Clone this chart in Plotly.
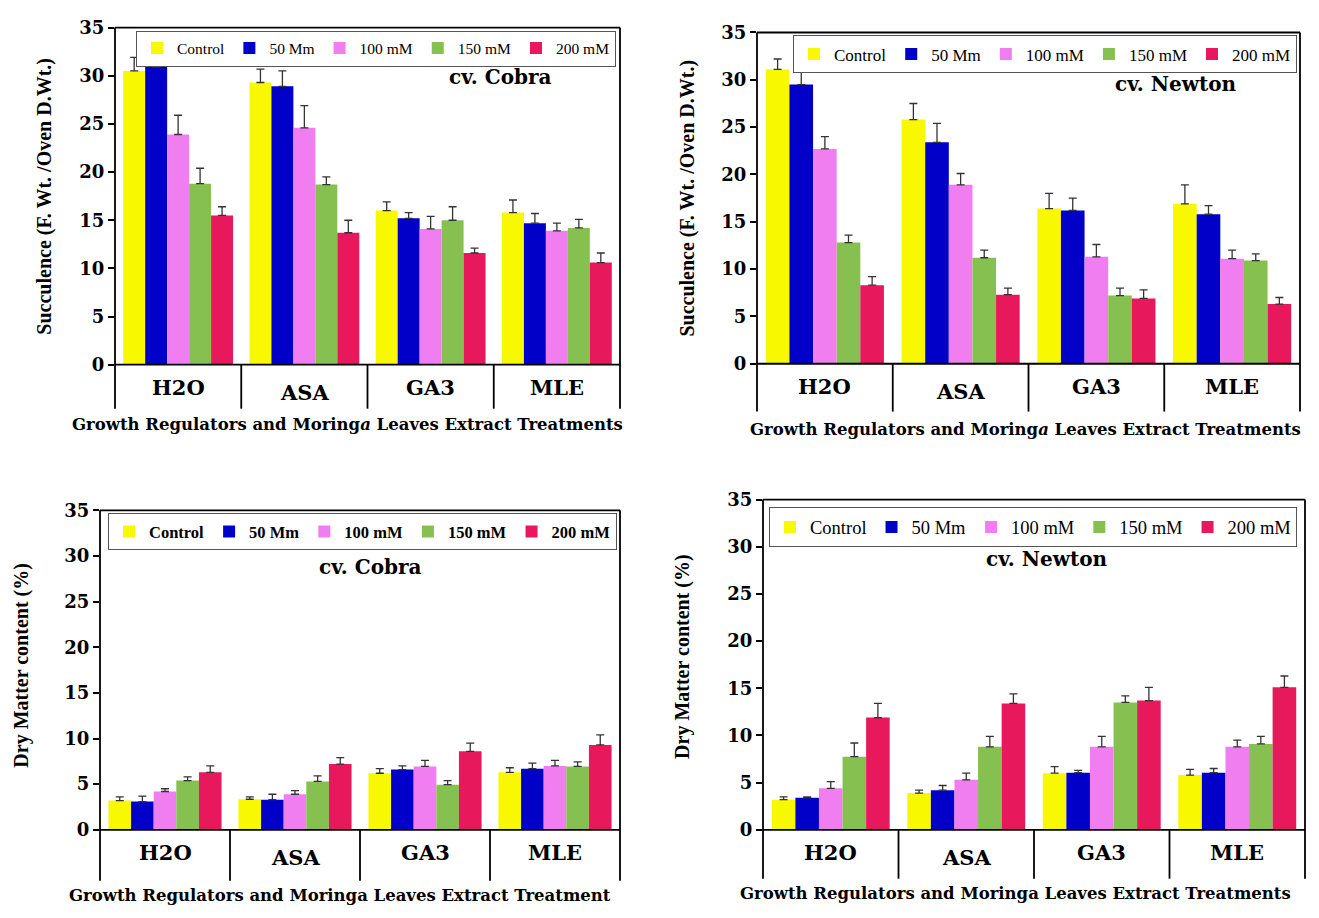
import plotly.graph_objects as go

# Treatments on the category axis and the salinity levels drawn as bars
categories = ["H2O", "ASA", "GA3", "MLE"]
series_names = ["Control", "50 Mm", "100 mM", "150 mM", "200 mM"]
series_colors = ["#F8F800", "#0000C8", "#F07EF0", "#86C050", "#E8185C"]

# Succulence, cv. Cobra (means and upper error-bar ends)
cobra_succ = [
    [30.5, 29.3, 16.0, 15.8],
    [30.9, 28.9, 15.2, 14.7],
    [23.9, 24.6, 14.1, 13.9],
    [18.8, 18.7, 15.0, 14.2],
    [15.5, 13.7, 11.6, 10.6],
]
cobra_succ_top = [
    [31.9, 30.7, 16.9, 17.1],
    [32.3, 30.5, 15.8, 15.7],
    [25.9, 26.9, 15.4, 14.7],
    [20.4, 19.5, 16.4, 15.1],
    [16.4, 15.0, 12.1, 11.6],
]

# Succulence, cv. Newton
newton_succ = [
    [31.1, 25.8, 16.4, 16.9],
    [29.5, 23.4, 16.2, 15.8],
    [22.7, 18.9, 11.3, 11.1],
    [12.8, 11.2, 7.2, 10.9],
    [8.3, 7.3, 6.9, 6.3],
]
newton_succ_top = [
    [32.2, 27.5, 18.0, 18.9],
    [31.1, 25.4, 17.5, 16.7],
    [24.0, 20.1, 12.6, 12.0],
    [13.6, 12.0, 8.0, 11.6],
    [9.2, 8.0, 7.8, 7.0],
]

# Dry matter content (%), cv. Cobra
cobra_dm = [
    [3.2, 3.35, 6.2, 6.3],
    [3.1, 3.3, 6.6, 6.7],
    [4.2, 3.9, 6.95, 7.0],
    [5.4, 5.3, 4.95, 6.95],
    [6.3, 7.2, 8.6, 9.3],
]
cobra_dm_top = [
    [3.6, 3.6, 6.7, 6.8],
    [3.7, 3.9, 7.0, 7.3],
    [4.5, 4.3, 7.6, 7.6],
    [5.8, 5.9, 5.4, 7.45],
    [7.0, 7.9, 9.5, 10.4],
]

# Dry matter content (%), cv. Newton
newton_dm = [
    [3.2, 3.9, 6.0, 5.8],
    [3.4, 4.2, 6.05, 6.05],
    [4.4, 5.3, 8.8, 8.8],
    [7.75, 8.8, 13.5, 9.1],
    [11.9, 13.4, 13.7, 15.1],
]
newton_dm_top = [
    [3.5, 4.2, 6.7, 6.4],
    [3.5, 4.7, 6.3, 6.5],
    [5.1, 6.0, 9.9, 9.5],
    [9.2, 9.9, 14.2, 9.9],
    [13.4, 14.4, 15.1, 16.3],
]

SERIF = "DejaVu Serif"
TIMES = "Liberation Serif"
X_TITLE_A = "Growth Regulators and Moring<i>a</i> Leaves Extract Treatments"

panels = [
    dict(sfx="", vals=cobra_succ, tops=cobra_succ_top,
         xdom=[115, 620], y0=362, y35=17, ybot=407,
         ytitle="Succulence (F. Wt. /Oven D.Wt.)", ytitle_xy=(45, 190),
         xtitle=X_TITLE_A, xtitle_xy=(347, 423),
         cv="cv. Cobra", cv_xy=(500, 68),
         legend_xy=(136, 20), legend_size=15.5, legend_bold=False),
    dict(sfx="2", vals=newton_succ, tops=newton_succ_top,
         xdom=[757, 1300], y0=361, y35=22, ybot=410,
         ytitle="Succulence (F. Wt. /Oven D.Wt.)", ytitle_xy=(688, 192),
         xtitle=X_TITLE_A, xtitle_xy=(1025, 428),
         cv="cv. Newton", cv_xy=(1176, 75),
         legend_xy=(793, 25), legend_size=17, legend_bold=False),
    dict(sfx="3", vals=cobra_dm, tops=cobra_dm_top,
         xdom=[100, 620], y0=838, y35=511, ybot=890,
         ytitle="Dry Matter content (%)", ytitle_xy=(22, 670),
         xtitle="Growth Regulators and Moringa Leaves Extract Treatment", xtitle_xy=(340, 905),
         cv="cv. Cobra", cv_xy=(370, 569),
         legend_xy=(108, 514), legend_size=16.5, legend_bold=True),
    dict(sfx="4", vals=newton_dm, tops=newton_dm_top,
         xdom=[763, 1305], y0=838, y35=500, ybot=888,
         ytitle="Dry Matter content (%)", ytitle_xy=(683, 660),
         xtitle="Growth Regulators and Moringa Leaves Extract Treatments", xtitle_xy=(1015, 903),
         cv="cv. Newton", cv_xy=(1047, 561),
         legend_xy=(769, 508), legend_size=18.5, legend_bold=False),
]

W, H = 1319, 918
fig = go.Figure()
layout = dict(
    width=W, height=H, margin=dict(l=0, r=0, t=0, b=0),
    paper_bgcolor="white", plot_bgcolor="white",
    barmode="group", bargap=0.13, bargroupgap=0,
    font=dict(family=SERIF, color="black"),
    showlegend=True,
)
shapes, annotations = [], []

for p in panels:
    s = p["sfx"]
    xa, ya = "x" + s, "y" + s
    lg = "legend" + s
    for k, name in enumerate(series_names):
        v = p["vals"][k]
        up = [round(t - m, 3) for t, m in zip(p["tops"][k], v)]
        fig.add_trace(go.Bar(
            x=categories, y=v, name=name, xaxis=xa, yaxis=ya, legend=lg,
            marker=dict(color=series_colors[k], line=dict(width=0)),
            error_y=dict(type="data", symmetric=False, array=up,
                         arrayminus=[0] * len(v), color="#333333",
                         thickness=1.3, width=4),
        ))

    ydom = [(H - p["y0"]) / H, (H - p["y35"]) / H]
    plot_h = p["y0"] - p["y35"]
    layout["xaxis" + s] = dict(
        domain=[p["xdom"][0] / W, p["xdom"][1] / W], anchor=ya,
        type="category", showticklabels=False, showgrid=False,
        zeroline=False, showline=False, ticks="", fixedrange=True,
    )
    layout["yaxis" + s] = dict(
        domain=ydom, anchor=xa, range=[0, 35], dtick=5,
        showgrid=False, zeroline=False, showline=False,
        ticks="outside", ticklen=6, tickwidth=1.5, tickcolor="black",
        tickfont=dict(family=SERIF, size=18, weight="bold", color="black"),
        fixedrange=True,
    )
    lx, ly = p["legend_xy"]
    layout[lg] = dict(
        orientation="h", x=lx / W, y=(H - ly) / H,
        xanchor="left", yanchor="top",
        bgcolor="white", bordercolor="#555555", borderwidth=1,
        font=dict(family=TIMES, size=p["legend_size"], color="black",
                  weight="bold" if p["legend_bold"] else "normal"),
        itemwidth=30, tracegroupgap=0,
    )

    # Plot frame, extended below the x axis into a box for the category labels
    ybot = (p["y0"] - p["ybot"]) / plot_h
    xd, yd = xa + " domain", ya + " domain"
    line = dict(color="black", width=1.8)
    shapes += [
        dict(type="line", xref=xd, yref=yd, x0=0, x1=1, y0=1, y1=1, line=line),
        dict(type="line", xref=xd, yref=yd, x0=0, x1=1, y0=0, y1=0, line=line),
        dict(type="line", xref=xd, yref=yd, x0=0, x1=0, y0=ybot, y1=1, line=line),
        dict(type="line", xref=xd, yref=yd, x0=1, x1=1, y0=ybot, y1=1, line=line),
    ]
    for b in (0.5, 1.5, 2.5):
        shapes.append(dict(type="line", xref=xa, yref=yd, x0=b, x1=b,
                           y0=ybot, y1=0, line=line))

    # Category labels
    for i, c in enumerate(categories):
        dy = 23 if c != "ASA" else 28
        annotations.append(dict(
            x=i, y=-dy / plot_h, xref=xa, yref=yd, text="<b>%s</b>" % c,
            showarrow=False, xanchor="center", yanchor="middle",
            font=dict(family=SERIF, size=21, color="black"),
        ))

    tx, ty = p["xtitle_xy"]
    annotations.append(dict(
        x=tx / W, y=(H - ty) / H, xref="paper", yref="paper",
        text="<b>%s</b>" % p["xtitle"], showarrow=False,
        xanchor="center", yanchor="middle",
        font=dict(family=SERIF, size=16.5, color="black"),
    ))
    yx, yy = p["ytitle_xy"]
    annotations.append(dict(
        x=yx / W, y=(H - yy) / H, xref="paper", yref="paper",
        text="<b>%s</b>" % p["ytitle"], showarrow=False, textangle=-90,
        xanchor="center", yanchor="middle",
        font=dict(family=TIMES, size=20, color="black"),
    ))
    cx, cy = p["cv_xy"]
    annotations.append(dict(
        x=cx / W, y=(H - cy) / H, xref="paper", yref="paper",
        text="<b>%s</b>" % p["cv"], showarrow=False,
        xanchor="center", yanchor="middle",
        font=dict(family=SERIF, size=20, color="black"),
    ))

layout["shapes"] = shapes
layout["annotations"] = annotations
fig.update_layout(**layout)
fig.write_html("out.html")
